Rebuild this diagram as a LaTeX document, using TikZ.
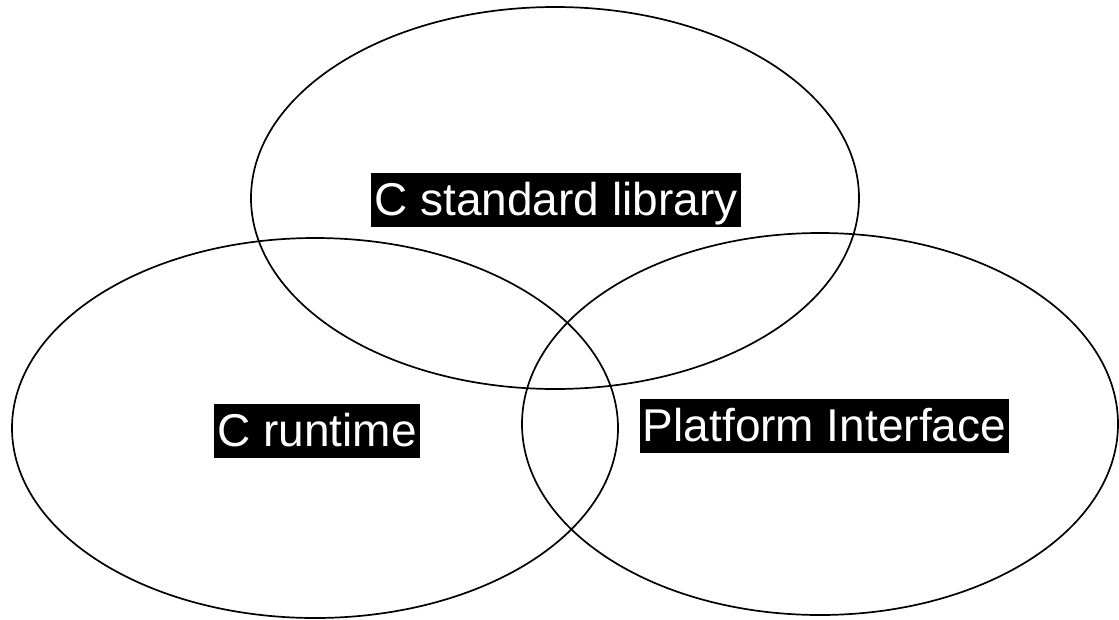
\documentclass[tikz,border=0pt]{standalone}
\usepackage{fontspec}
\setmainfont{Liberation Sans}
\usetikzlibrary{shapes.geometric}
\begin{document}
\begin{tikzpicture}[x=1pt,y=-1pt,
  ring/.style={draw=black,line width=1.7pt,ellipse,inner sep=0pt},
  tag/.style={fill=black,text=white,inner xsep=3pt,inner ysep=1.5pt,
    text height=41pt,text depth=10pt,
    font=\fontsize{46}{50}\selectfont}]
\useasboundingbox (0,0) rectangle (1119,619);
\node[ring,minimum width=608pt,minimum height=382pt] (lib) at (555,198) {};
\node[ring,minimum width=606pt,minimum height=380pt] (rt) at (315,428) {};
\node[ring,minimum width=596pt,minimum height=382pt] (pi) at (820,424) {};
\node[tag] (tlib) at (556,200) {C standard library};
\node[tag] (trt) at (317,430.5) {C runtime};
\node[tag] (tpi) at (824.5,426) {Platform Interface};
\end{tikzpicture}
\end{document}
